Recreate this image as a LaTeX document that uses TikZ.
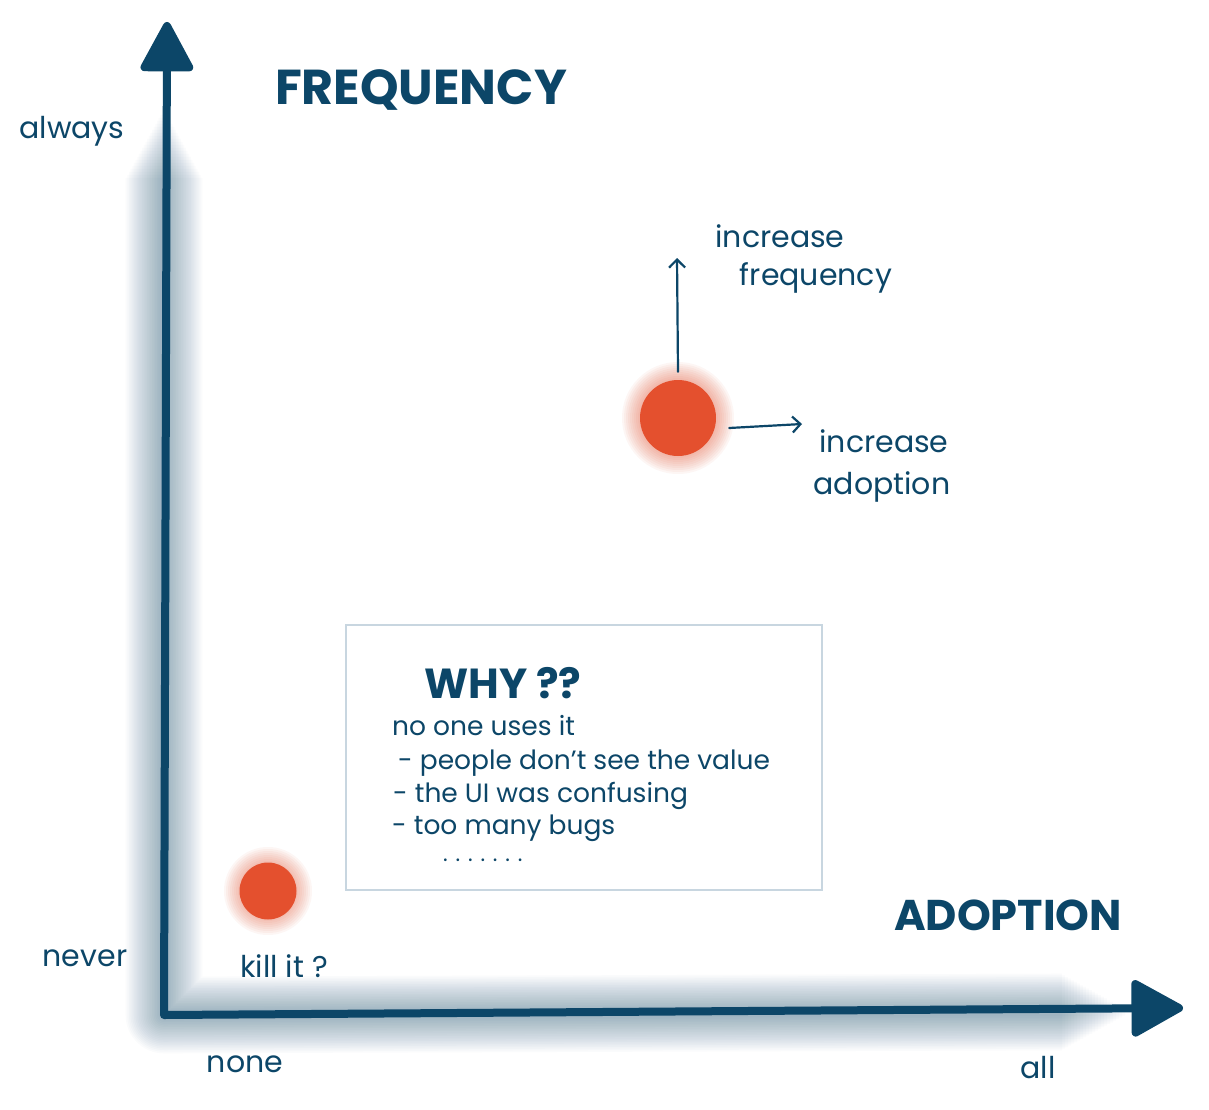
\documentclass[tikz,border=0pt]{standalone}
\usepackage{fontspec}
\setmainfont{Poppins}
\usetikzlibrary{arrows.meta}
\definecolor{ink}{RGB}{12,70,104}
\definecolor{dot}{RGB}{228,80,46}
\definecolor{frame}{RGB}{200,214,224}
\tikzset{
  hand/.style={font=\fontsize{#1}{#1}\selectfont, text=ink, inner sep=0pt},
  hand/.default=29,
  title/.style={font=\fontsize{#1}{#1}\selectfont\bfseries, text=ink, inner sep=0pt},
  axis/.style={draw=ink, line width=8pt, line join=round,
    {Triangle[length=54pt,width=56pt,round]}-{Triangle[length=56pt,width=60pt,round]}},
  haze/.style={draw=ink, line width=#1, opacity=0.018, line join=round},
  spot/.style={circle, fill=dot, inner sep=0pt, minimum size=#1},
  pointer/.style={draw=ink, line width=2.2pt, line cap=round,
    -{Straight Barb[length=8pt,width=16pt,line width=2.2pt]}},
  notebox/.style={draw=frame, line width=2.5pt, inner sep=0pt}
}
\begin{document}
\begin{tikzpicture}[x=1pt,y=-1pt]
\useasboundingbox (0,0) rectangle (1209,1110);
\fill[white] (0,0) rectangle (1209,1110);

% axes with a soft shadow along them
\coordinate (ytop) at (167,22);
\coordinate (origin) at (164,1015);
\coordinate (xend) at (1183,1008);
\foreach \k in {1,...,22}
  \path[haze={4+3.3*\k pt}] (164,{112+3*\k}) -- (origin) -- ({1128-3*\k},1012);
\draw[axis] (ytop) -- (origin) -- (xend);

% axis titles and ends
\node[title=49] (freq) at (421,90) {FREQUENCY};
\node[title=43] (adopt) at (1008,915) {ADOPTION};
\node[hand=30] (always) at (72,131) {always};
\node[hand=30] (never) at (85,958) {never};
\node[hand=30] (none) at (245,1064) {none};
\node[hand=30] (all) at (1038,1068) {all};

% glowing spots
\foreach \r in {1,...,9}
  \fill[dot, opacity=0.05] (678,418) circle ({38+2*\r});
\node[spot=76pt] (high) at (678,418) {};
\foreach \r in {1,...,8}
  \fill[dot, opacity=0.05] (268,891) circle ({28+2*\r});
\node[spot=57pt] (low) at (268,891) {};

% directions from the upper spot
\coordinate (up) at (677,258);
\coordinate (right) at (802,424);
\draw[pointer] ([yshift=8pt]high.north) -- (up);
\draw[pointer] ([xshift=13pt,yshift=-10pt]high.east) -- (right);
\node[hand=30] (incf1) at (780,236) {increase};
\node[hand=30] (incf2) at (816,278) {frequency};
\node[hand=30] (inca1) at (884,441) {increase};
\node[hand=30] (inca2) at (882,487) {adoption};
\node[hand=30] (kill) at (284,966) {kill it ?};

% note box
\node[notebox, minimum width=476pt, minimum height=265pt] (why) at (584,757.5) {};
\node[title=42, anchor=west] (whyt) at (424,683) {WHY ??};
\node[hand=26.5, anchor=base west] (l1) at (392,735) {no one uses it};
\node[hand=26.5, anchor=base west] (l2) at (398,769) {- people don’t see the value};
\node[hand=26.5, anchor=base west] (l3) at (393,802) {- the UI was confusing};
\node[hand=26.5, anchor=base west] (l4) at (392,834) {- too many bugs};
\node[hand=22, anchor=base west] (l5) at (443,861) {. . . . . . .};
\end{tikzpicture}
\end{document}
